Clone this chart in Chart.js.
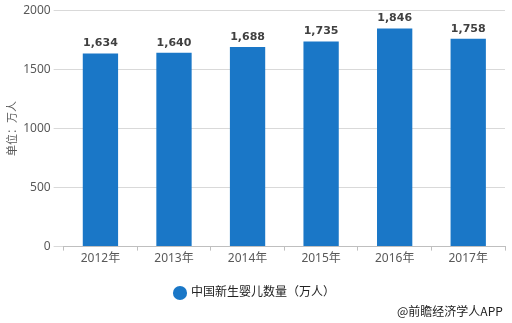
<!DOCTYPE html>
<html lang="zh">
<head>
<meta charset="UTF-8">
<title>中国新生婴儿数量</title>
<script src="https://cdn.jsdelivr.net/npm/chart.js"></script>
<style>
  body { margin: 0; background: #fff; font-family: "Noto Sans CJK SC", sans-serif; }
  .wrap { position: relative; width: 512px; height: 323px; }
  .source { position: absolute; left: 397px; top: 302px; font-size: 12px; color: #222; font-family: "Noto Sans CJK SC", sans-serif; }
</style>
</head>
<body>
<div class="wrap">
  <canvas id="births" width="512" height="323"></canvas>
  <div class="source">@前瞻经济学人APP</div>
</div>
<script>
const years = ['2012年', '2013年', '2014年', '2015年', '2016年', '2017年'];
const births = [1634, 1640, 1688, 1735, 1846, 1758];
const yTicks = [0, 500, 1000, 1500, 2000];

const fontFamily = '"Noto Sans", "Noto Sans CJK SC", sans-serif';

// 在柱顶上方写出数值
const valueLabels = {
  id: 'valueLabels',
  afterDatasetsDraw(chart) {
    const ctx = chart.ctx;
    const meta = chart.getDatasetMeta(0);
    ctx.save();
    ctx.font = 'bold 11px "DejaVu Sans", sans-serif';
    ctx.fillStyle = '#404040';
    ctx.textAlign = 'center';
    ctx.textBaseline = 'middle';
    meta.data.forEach((bar, i) => {
      ctx.fillText(births[i].toLocaleString('en-US'), bar.x, bar.y - 10);
    });
    ctx.restore();
  }
};

new Chart(document.getElementById('births'), {
  type: 'bar',
  data: {
    labels: years,
    datasets: [{
      label: '中国新生婴儿数量（万人）',
      data: births,
      backgroundColor: '#1a77c7',
      barPercentage: 0.48,
      categoryPercentage: 1
    }]
  },
  options: {
    responsive: false,
    animation: false,
    layout: { padding: { left: 5, right: 7, top: 8, bottom: 14 } },
    plugins: {
      tooltip: { enabled: false },
      legend: {
        position: 'bottom',
        labels: {
          usePointStyle: true,
          pointStyle: 'circle',
          boxWidth: 10,
          boxHeight: 10,
          padding: 20,
          color: '#222',
          font: { size: 12, family: fontFamily }
        }
      }
    },
    scales: {
      x: {
        grid: { display: true, drawOnChartArea: false, tickLength: 4, tickColor: '#bfbfbf' },
        border: { color: '#bfbfbf' },
        ticks: { color: '#595959', font: { size: 12, family: fontFamily }, padding: 1 }
      },
      y: {
        min: 0,
        max: 2000,
        afterBuildTicks(axis) { axis.ticks = yTicks.map(v => ({ value: v })); },
        grid: { color: '#d9d9d9', tickLength: 10, tickColor: '#d9d9d9' },
        border: { display: false },
        ticks: {
          color: '#595959',
          font: { size: 12, family: fontFamily },
          padding: 3,
          callback: v => String(v)
        },
        title: {
          display: true,
          text: '单位：万人',
          color: '#595959',
          font: { size: 11, family: fontFamily },
          padding: 1
        }
      }
    }
  },
  plugins: [valueLabels]
});
</script>
</body>
</html>
